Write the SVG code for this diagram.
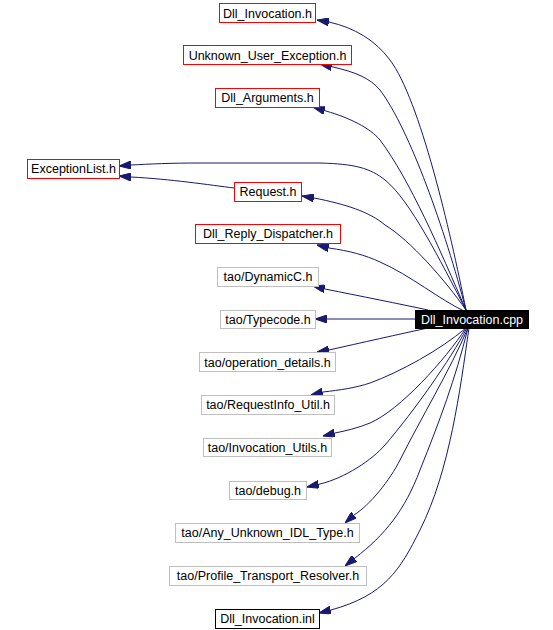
<svg xmlns="http://www.w3.org/2000/svg" width="553" height="630" viewBox="0 0 553 630">
<style>
text{font-family:"Liberation Sans",Arial,sans-serif;font-size:12.5px;text-anchor:middle;fill:#000}
.r{fill:#fff;stroke:#ff0000;stroke-width:1}
.g{fill:#fff;stroke:#bfbfbf;stroke-width:1}
.k{fill:#fff;stroke:#000;stroke-width:1}
.m{fill:#000;stroke:#000;stroke-width:1}
.w{fill:#fff}
.e{fill:none;stroke:#191970;stroke-width:1;marker-end:url(#ah)}
</style>
<defs>
<marker id="ah" viewBox="0 0 12 8" refX="12" refY="4" markerWidth="12" markerHeight="8" markerUnits="userSpaceOnUse" orient="auto">
<path d="M0,0 L12,4 L0,8 z" fill="#191970" stroke="#191970"/>
</marker>
</defs>
<rect width="553" height="630" fill="#fff"/>
<g id="connectors">
<path class="e" d="M466,310 C450,230 420,100 390,60 C375,40 355,28 329,22 L317,20"/>
<path class="e" d="M466,310 C445,230 410,130 380,90 C370,78 355,72 333,67 L320,64"/>
<path class="e" d="M466,310 C440,250 410,180 380,140 C370,128 350,118 326,111 L313,107"/>
<path class="e" d="M466,310 C440,260 410,200 385,180 C370,168 355,164 320,163 L200,163 C170,163 150,164 131,165 L119,166"/>
<path class="e" d="M234,188 C210,185 170,179 131,177 L119,176"/>
<path class="e" d="M466,310 C445,280 410,240 385,225 C370,212 345,204 314,198 L302,196"/>
<path class="e" d="M466,312 C440,300 410,275 380,262 C365,255 350,251 329,248 L317,245"/>
<path class="e" d="M428,310 C400,304 360,296 325,289 L313,286"/>
<path class="e" d="M415,319 L315,319"/>
<path class="e" d="M428,328 C400,334 360,343 329,350 L317,352"/>
<path class="e" d="M466,328 C440,350 400,372 370,383 C355,388 340,390 323,392 L311,395"/>
<path class="e" d="M466,328 C445,360 400,410 370,423 C358,428 345,431 335,433 L323,436"/>
<path class="e" d="M467,328 C450,360 415,410 385,445 C372,460 345,478 320,484 L307,487"/>
<path class="e" d="M468,328 C450,370 420,420 400,460 C390,480 370,505 354,515 L345,523"/>
<path class="e" d="M468,328 C455,380 440,420 420,470 C405,510 385,535 355,558 L345,566"/>
<path class="e" d="M469,328 C460,390 450,470 420,530 C400,570 385,595 331,610 L319,613"/>
</g>
<g id="n_cpp"><rect class="m" x="415.5" y="310.5" width="113" height="18"/><text class="w" x="472" y="324">Dll_Invocation.cpp</text></g>
<g id="n1"><rect class="r" x="219.5" y="3.5" width="96" height="19"/><text x="267.5" y="17.5">Dll_Invocation.h</text></g>
<g id="n2"><rect class="r" x="183.5" y="45.5" width="168" height="19"/><text x="267.5" y="59.5">Unknown_User_Exception.h</text></g>
<g id="n3"><rect class="r" x="215.5" y="88.5" width="104" height="19"/><text x="267.5" y="102">Dll_Arguments.h</text></g>
<g id="n4"><rect class="r" x="27.5" y="159.5" width="92" height="19"/><text x="73.5" y="173">ExceptionList.h</text></g>
<g id="n5"><rect class="r" x="234.5" y="182.5" width="67" height="19"/><text x="268" y="196">Request.h</text></g>
<g id="n6"><rect class="r" x="195.5" y="224.5" width="145" height="19"/><text x="268" y="238">Dll_Reply_Dispatcher.h</text></g>
<g id="n7"><rect class="g" x="217.5" y="267.5" width="101" height="19"/><text x="268" y="281">tao/DynamicC.h</text></g>
<g id="n8"><rect class="g" x="220.5" y="310.5" width="95" height="18"/><text x="268" y="324">tao/Typecode.h</text></g>
<g id="n9"><rect class="g" x="199.5" y="352.5" width="136" height="19"/><text x="267.5" y="366.5">tao/operation_details.h</text></g>
<g id="n10"><rect class="g" x="201.5" y="395.5" width="133" height="19"/><text x="268" y="409">tao/RequestInfo_Util.h</text></g>
<g id="n11"><rect class="g" x="203.5" y="438.5" width="128" height="18"/><text x="267.5" y="452">tao/Invocation_Utils.h</text></g>
<g id="n12"><rect class="g" x="229.5" y="481.5" width="77" height="18"/><text x="268" y="495">tao/debug.h</text></g>
<g id="n13"><rect class="g" x="175.5" y="523.5" width="184" height="19"/><text x="267.5" y="537">tao/Any_Unknown_IDL_Type.h</text></g>
<g id="n14"><rect class="g" x="169.5" y="566.5" width="197" height="19"/><text x="268" y="580">tao/Profile_Transport_Resolver.h</text></g>
<g id="n15"><rect class="k" x="215.5" y="609.5" width="104" height="19"/><text x="267.5" y="623">Dll_Invocation.inl</text></g>
</svg>
